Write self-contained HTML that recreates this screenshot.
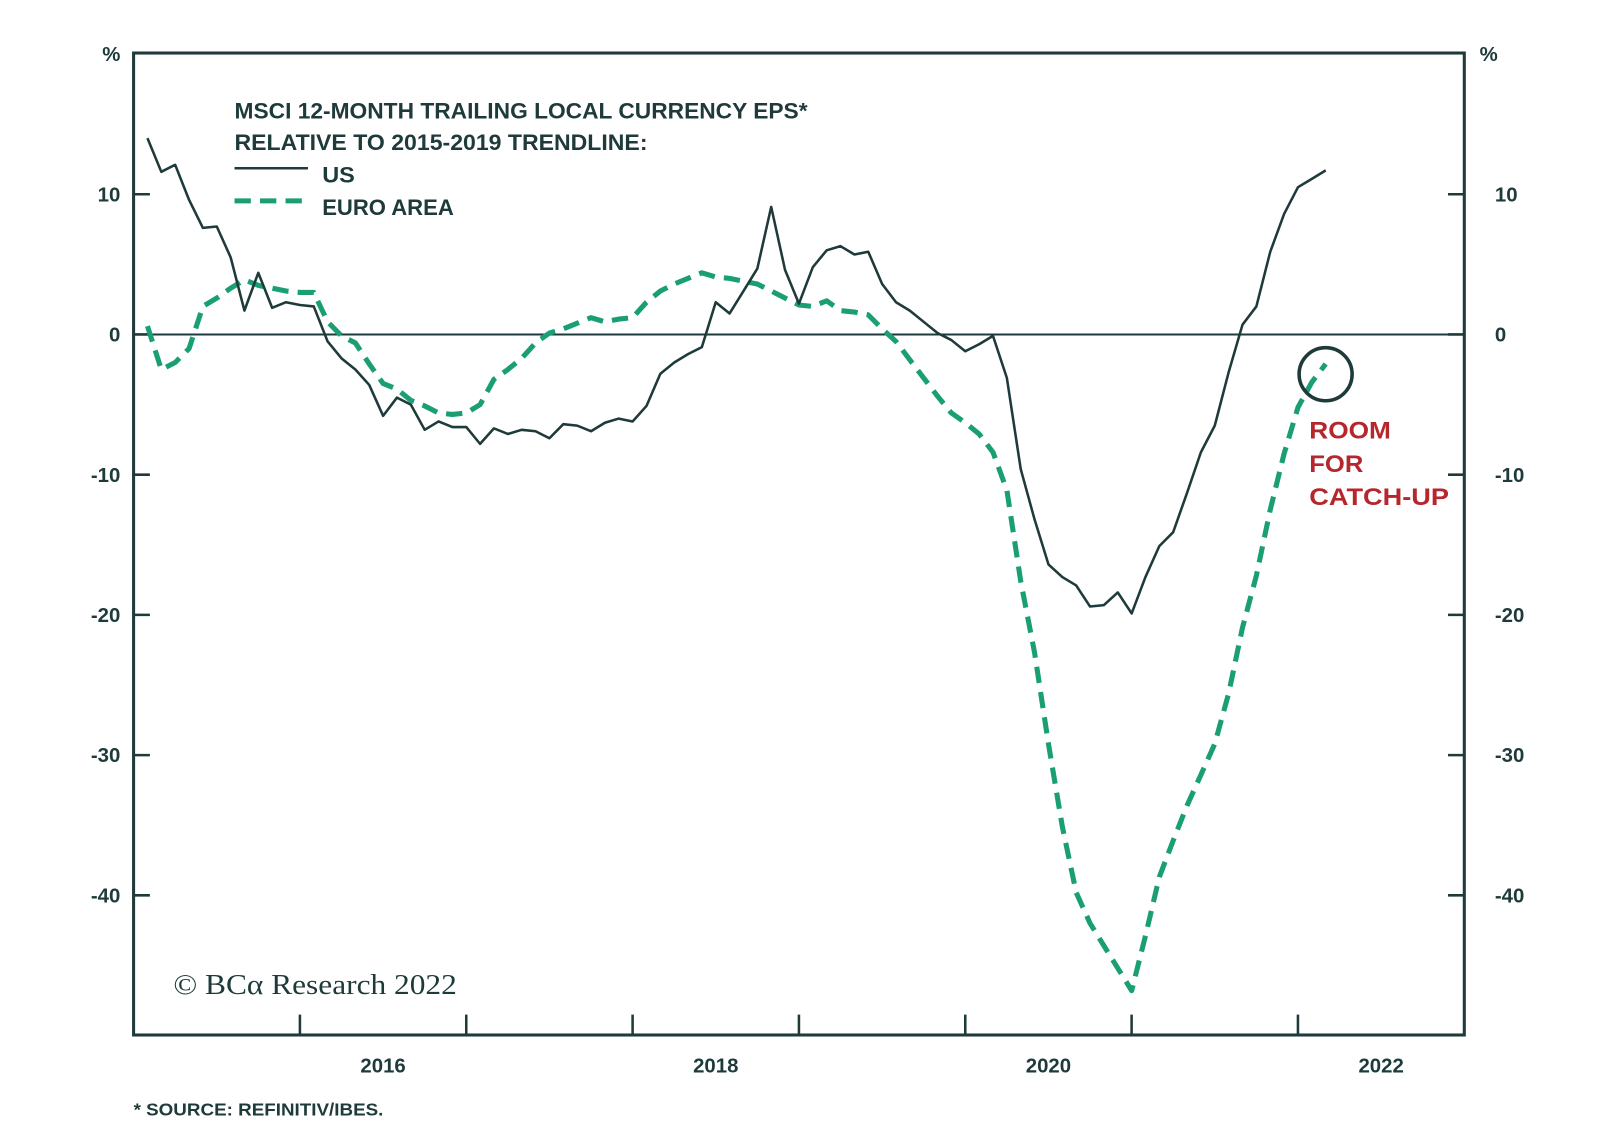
<!DOCTYPE html>
<html><head><meta charset="utf-8"><style>
body{margin:0;background:#fff}
svg{display:block;font-family:"Liberation Sans",sans-serif}
</style></head><body>
<svg id="chart" width="1600" height="1146" viewBox="0 0 1600 1146">
<g transform="scale(1.0197)">
<rect x="131" y="52" width="1305" height="963" fill="none" stroke="#1e3a3a" stroke-width="3"/>
<g id="axes"></g>
<g id="series"></g>
<g font-weight="bold" fill="#1e3a3a" font-size="22">
<text x="230" y="116" textLength="562" lengthAdjust="spacingAndGlyphs">MSCI 12-MONTH TRAILING LOCAL CURRENCY EPS*</text>
<text x="230" y="147" textLength="405" lengthAdjust="spacingAndGlyphs">RELATIVE TO 2015-2019 TRENDLINE:</text>
<line x1="230" y1="165" x2="302" y2="165" stroke="#1e3a3a" stroke-width="2.5"/>
<text x="316" y="179" textLength="32" lengthAdjust="spacingAndGlyphs">US</text>
<line x1="230" y1="197" x2="302" y2="197" stroke="#1a9e74" stroke-width="5" stroke-dasharray="16,9"/>
<text x="316" y="211" textLength="129" lengthAdjust="spacingAndGlyphs">EURO AREA</text>
</g>
<circle cx="1300" cy="367" r="26" fill="none" stroke="#1e3a3a" stroke-width="3.5"/>
<g fill="#b5262d" font-size="24" font-weight="bold">
<text x="1284" y="430" textLength="80" lengthAdjust="spacingAndGlyphs">ROOM</text><text x="1284" y="463" textLength="53" lengthAdjust="spacingAndGlyphs">FOR</text><text x="1284" y="495" textLength="137" lengthAdjust="spacingAndGlyphs">CATCH-UP</text>
</g>
<text x="170" y="975" font-family="Liberation Serif,serif" font-size="28" fill="#1e3a3a" textLength="278" lengthAdjust="spacingAndGlyphs">© BCα Research 2022</text>
<text x="131" y="1094" font-size="17" font-weight="bold" fill="#1e3a3a" textLength="245" lengthAdjust="spacingAndGlyphs">* SOURCE: REFINITIV/IBES.</text>
</g>
</svg>
<script>
const yTicks=[10,0,-10,-20,-30,-40];
const xYears=[2016,2017,2018,2019,2020,2021,2022];
const xLabels=[2016,2018,2020,2022];
const usValues=[14.0,11.6,12.1,9.6,7.6,7.7,5.5,1.7,4.4,1.9,2.3,2.1,2.0,-0.5,-1.7,-2.5,-3.6,-5.8,-4.5,-5.0,-6.8,-6.2,-6.6,-6.6,-7.8,-6.7,-7.1,-6.8,-6.9,-7.4,-6.4,-6.5,-6.9,-6.3,-6.0,-6.2,-5.1,-2.8,-2.0,-1.4,-0.9,2.3,1.5,3.1,4.7,9.1,4.6,2.2,4.8,6.0,6.3,5.7,5.9,3.6,2.3,1.7,0.9,0.1,-0.4,-1.2,-0.7,-0.1,-3.1,-9.6,-13.2,-16.4,-17.3,-17.9,-19.4,-19.3,-18.4,-19.9,-17.3,-15.1,-14.1,-11.3,-8.4,-6.5,-2.7,0.7,2.0,5.9,8.6,10.5,11.1,11.7];
const euroValues=[0.6,-2.5,-2.0,-1.0,2.0,2.6,3.3,3.9,3.5,3.3,3.1,3.0,3.0,0.9,-0.1,-0.6,-2.1,-3.5,-3.9,-4.7,-5.1,-5.6,-5.7,-5.6,-5.0,-3.2,-2.5,-1.7,-0.6,0.1,0.4,0.8,1.2,0.9,1.1,1.2,2.3,3.1,3.6,4.0,4.4,4.1,4.0,3.8,3.6,3.1,2.6,2.1,2.0,2.4,1.7,1.6,1.4,0.4,-0.5,-1.8,-3.1,-4.4,-5.6,-6.3,-7.1,-8.4,-11.1,-17.6,-22.7,-29.2,-35.1,-39.8,-42.0,-43.6,-45.2,-46.8,-42.9,-38.7,-36.1,-33.6,-31.4,-29.2,-25.6,-20.9,-17.2,-12.5,-8.5,-5.2,-3.4,-2.1];
const startYear=2015+1/12;
const NS='http://www.w3.org/2000/svg';
const xS=t=>131+(t-2015)*163.125;
const yS=v=>328-v*13.75;
function mk(tag,attrs,parent){const e=document.createElementNS(NS,tag);for(const k in attrs)e.setAttribute(k,attrs[k]);parent.appendChild(e);return e;}
const ax=document.getElementById('axes');
const zl=mk('line',{x1:131,x2:1436,y1:yS(0),y2:yS(0),stroke:'#1e3a3a','stroke-width':2},ax);


yTicks.forEach(v=>{
 const y=yS(v);
 const a=mk('line',{x1:131,x2:147,y1:y,y2:y,stroke:'#1e3a3a','stroke-width':2.5},ax);
 
 
 const b=mk('line',{x1:1420,x2:1436,y1:y,y2:y,stroke:'#1e3a3a','stroke-width':2.5},ax);
 
 
 const t1=mk('text',{x:118,y:y+7,'text-anchor':'end','font-size':20,'font-weight':'bold',fill:'#1e3a3a'},ax);t1.textContent=v;
 
 
 const t2=mk('text',{x:1466,y:y+7,'font-size':20,'font-weight':'bold',fill:'#1e3a3a'},ax);t2.textContent=v;
 
 
});
[[108,'end'],[1451,'start']].forEach(([x,a])=>{const t=mk('text',{x:x+(a=='end'?10:0),y:60,'text-anchor':a,'font-size':20,'font-weight':'bold',fill:'#1e3a3a'},ax);t.textContent='%';
 
 });
xYears.forEach(yr=>{const l=mk('line',{x1:xS(yr),x2:xS(yr),y1:995,y2:1015,stroke:'#1e3a3a','stroke-width':2.5},ax);
 
 });
xLabels.forEach(yr=>{const t=mk('text',{x:xS(yr+0.5),y:1052,'text-anchor':'middle','font-size':20,'font-weight':'bold',fill:'#1e3a3a'},ax);t.textContent=yr;
 
 });
const se=document.getElementById('series');
const pts=arr=>arr.map((v,i)=>xS(startYear+i/12).toFixed(1)+','+yS(v).toFixed(1)).join(' ');
const eu=mk('polyline',{points:pts(euroValues),fill:'none',stroke:'#1a9e74','stroke-width':5,'stroke-dasharray':'16,9','stroke-linejoin':'round'},se);


const us=mk('polyline',{points:pts(usValues),fill:'none',stroke:'#1e3a3a','stroke-width':2.5,'stroke-linejoin':'round'},se);


</script>
</body></html>
